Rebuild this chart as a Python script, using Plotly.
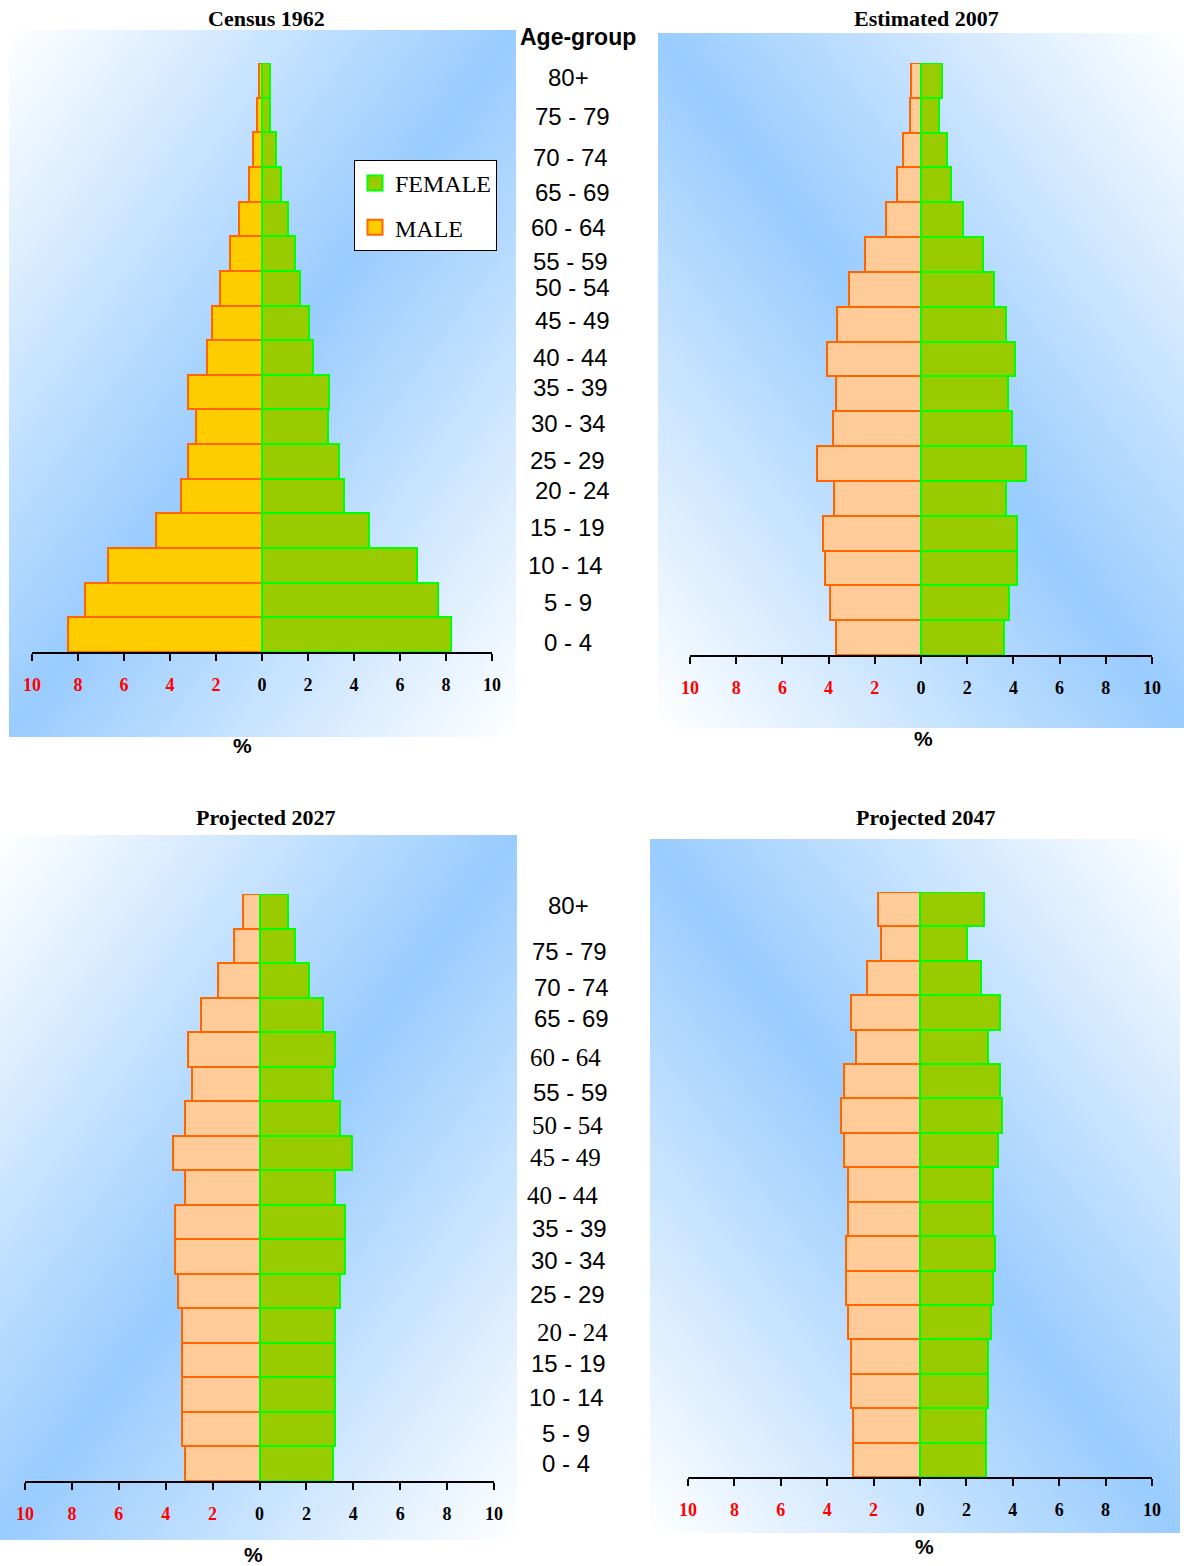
import base64
import plotly.graph_objects as go

W, H = 1184, 1566

# ---------------- data ----------------
ages = ["0 - 4", "5 - 9", "10 - 14", "15 - 19", "20 - 24", "25 - 29", "30 - 34",
        "35 - 39", "40 - 44", "45 - 49", "50 - 54", "55 - 59", "60 - 64",
        "65 - 69", "70 - 74", "75 - 79", "80+"]

male_1962 = [8.45, 7.71, 6.71, 4.61, 3.51, 3.20, 2.89, 3.20, 2.41, 2.19, 1.83, 1.41, 1.00, 0.58, 0.40, 0.22, 0.13]
female_1962 = [8.23, 7.64, 6.76, 4.64, 3.55, 3.35, 2.85, 2.93, 2.23, 2.05, 1.65, 1.43, 1.13, 0.84, 0.62, 0.33, 0.33]

male_2007 = [3.68, 3.95, 4.16, 4.23, 3.75, 4.49, 3.83, 3.68, 4.05, 3.62, 3.12, 2.43, 1.50, 1.02, 0.78, 0.48, 0.45]
female_2007 = [3.60, 3.81, 4.17, 4.14, 3.69, 4.53, 3.93, 3.75, 4.05, 3.66, 3.18, 2.67, 1.80, 1.32, 1.11, 0.78, 0.93]

male_2027 = [3.18, 3.29, 3.29, 3.29, 3.29, 3.46, 3.59, 3.59, 3.16, 3.69, 3.16, 2.88, 3.07, 2.49, 1.78, 1.08, 0.69]
female_2027 = [3.14, 3.22, 3.22, 3.22, 3.22, 3.45, 3.64, 3.64, 3.22, 3.94, 3.45, 3.14, 3.22, 2.72, 2.12, 1.50, 1.20]

male_2047 = [2.89, 2.89, 2.98, 2.98, 3.09, 3.18, 3.18, 3.09, 3.09, 3.27, 3.39, 3.27, 2.77, 2.98, 2.28, 1.67, 1.79]
female_2047 = [2.83, 2.83, 2.95, 2.95, 3.04, 3.13, 3.25, 3.13, 3.13, 3.36, 3.54, 3.45, 2.95, 3.45, 2.63, 2.03, 2.75]

panel_titles = ["Census 1962", "Estimated 2007", "Projected 2027", "Projected 2047"]
tick_vals = [-10, -8, -6, -4, -2, 0, 2, 4, 6, 8, 10]
tick_nums = ["10", "8", "6", "4", "2", "0", "2", "4", "6", "8", "10"]

# ---------------- layout helpers ----------------
def px(x, y):
    return x / W, 1 - y / H

def grad_svg(direction):
    if direction == "up":   # blue band from bottom-left to top-right
        x1, y1, x2, y2 = 0, 0, 1, 1
    else:                   # blue band from top-left to bottom-right
        x1, y1, x2, y2 = 1, 0, 0, 1
    svg = ('<svg xmlns="http://www.w3.org/2000/svg" width="200" height="200" '
           'viewBox="0 0 200 200" preserveAspectRatio="none"><defs>'
           f'<linearGradient id="g" x1="{x1}" y1="{y1}" x2="{x2}" y2="{y2}">'
           '<stop offset="0" stop-color="#FFFFFF"/>'
           '<stop offset="0.5" stop-color="#99CCFF"/>'
           '<stop offset="1" stop-color="#FFFFFF"/>'
           '</linearGradient></defs>'
           '<rect width="200" height="200" fill="url(#g)"/></svg>')
    return "data:image/svg+xml;base64," + base64.b64encode(svg.encode()).decode()

# panel geometry in pixels: axis x-range, axis y (bottom) and top of bars, background box
panels = [
    dict(x0=32, x1=492, ybot=652, ytop=63, bg=(9, 30, 516, 737), grad="up",
         title=(266, 19), pct=(242, 745), male_fill="#FFCC00"),
    dict(x0=690, x1=1152, ybot=655, ytop=63, bg=(658, 33, 1184, 728), grad="down",
         title=(926, 19), pct=(923, 738), male_fill="#FFCC99"),
    dict(x0=25, x1=494, ybot=1481, ytop=894, bg=(0, 835, 517, 1540), grad="up",
         title=(266, 817), pct=(253, 1554), male_fill="#FFCC99"),
    dict(x0=688, x1=1152, ybot=1477, ytop=892, bg=(650, 839, 1180, 1533), grad="down",
         title=(926, 817), pct=(924, 1546), male_fill="#FFCC99"),
]
males = [male_1962, male_2007, male_2027, male_2047]
females = [female_1962, female_2007, female_2027, female_2047]

fig = go.Figure()
layout = dict(
    width=W, height=H, autosize=False, margin=dict(l=0, r=0, t=0, b=0, pad=0),
    paper_bgcolor="white", plot_bgcolor="rgba(0,0,0,0)",
    barmode="overlay", bargap=0, showlegend=True,
    legend=dict(x=354 / W, y=1 - 160 / H, xanchor="left", yanchor="top",
                bgcolor="white", bordercolor="black", borderwidth=1,
                font=dict(family="Liberation Serif", size=24, color="black"),
                traceorder="grouped", tracegroupgap=10, itemwidth=30),
)

ticktext = []
for v, t in zip(tick_vals, tick_nums):
    if v < 0:
        ticktext.append(f'<b><span style="color:#FF0000">{t}</span></b>')
    else:
        ticktext.append(f"<b>{t}</b>")

images = []
annotations = []
for i, p in enumerate(panels):
    n = "" if i == 0 else str(i + 1)
    xa, ya = "x" + n, "y" + n
    fig.add_trace(go.Bar(
        y=ages, x=[-v for v in males[i]], orientation="h", name="MALE",
        marker=dict(color=p["male_fill"], line=dict(color="#FF6600", width=2)),
        xaxis=xa, yaxis=ya, showlegend=False, hoverinfo="skip", width=1))
    fig.add_trace(go.Bar(
        y=ages, x=females[i], orientation="h", name="FEMALE",
        marker=dict(color="#99CC00", line=dict(color="#00FF00", width=2)),
        xaxis=xa, yaxis=ya, showlegend=False, hoverinfo="skip", width=1))
    layout["xaxis" + n] = dict(
        domain=[p["x0"] / W, p["x1"] / W], range=[-10, 10], anchor=ya, automargin=False,
        showline=True, linecolor="black", linewidth=2, showgrid=False, zeroline=False,
        ticks="outside", ticklen=7, tickwidth=2, tickcolor="black",
        tickmode="array", tickvals=tick_vals, ticktext=ticktext,
        tickfont=dict(family="Liberation Serif", size=18, color="black"),
        ticklabelstandoff=8, fixedrange=True)
    layout["yaxis" + n] = dict(
        domain=[1 - p["ybot"] / H, 1 - p["ytop"] / H], anchor=xa, automargin=False,
        type="category", categoryorder="array", categoryarray=ages,
        range=[-0.5, len(ages) - 0.5], visible=False, fixedrange=True)
    bx0, by0, bx1, by1 = p["bg"]
    images.append(dict(source=grad_svg(p["grad"]), xref="paper", yref="paper",
                       x=bx0 / W, y=1 - by0 / H, sizex=(bx1 - bx0) / W, sizey=(by1 - by0) / H,
                       xanchor="left", yanchor="top", sizing="stretch", layer="below"))
    tx, ty = px(*p["title"])
    annotations.append(dict(text="<b>" + panel_titles[i] + "</b>", x=tx, y=ty, xref="paper", yref="paper",
                            showarrow=False, xanchor="center", yanchor="middle",
                            font=dict(family="Liberation Serif", size=22, color="black")))
    qx, qy = px(*p["pct"])
    annotations.append(dict(text="<b>%</b>", x=qx, y=qy, xref="paper", yref="paper",
                            showarrow=False, xanchor="center", yanchor="middle",
                            font=dict(family="Liberation Sans", size=21, color="black")))

# legend entries (square swatches like the original legend)
fig.add_trace(go.Scatter(x=[None], y=[None], mode="markers", name="FEMALE",
                         marker=dict(symbol="square", size=15, color="#99CC00",
                                     line=dict(color="#00FF00", width=2)),
                         xaxis="x", yaxis="y", legendgroup="f", legendrank=1, hoverinfo="skip"))
fig.add_trace(go.Scatter(x=[None], y=[None], mode="markers", name="MALE",
                         marker=dict(symbol="square", size=15, color="#FFCC00",
                                     line=dict(color="#FF6600", width=2)),
                         xaxis="x", yaxis="y", legendgroup="m", legendrank=2, hoverinfo="skip"))

# Age-group header and label columns (label positions in pixels, from 0-4 up to 80+)
gx, gy = px(578, 37)
annotations.append(dict(text="<b>Age-group</b>", x=gx, y=gy, xref="paper", yref="paper",
                        showarrow=False, xanchor="center", yanchor="middle",
                        font=dict(family="Liberation Sans", size=23, color="black")))

col1_pos = [(568, 642), (568, 603), (565, 565), (567, 527), (572, 490), (567, 460), (568, 423),
            (570, 388), (570, 357), (572, 320), (572, 287), (570, 262), (568, 227),
            (572, 192), (570, 157), (572, 117), (568, 78)]
col2_pos = [(566, 1463), (566, 1433), (566, 1397), (568, 1363), (572, 1332), (567, 1294), (568, 1260),
            (569, 1228), (562, 1195), (565, 1157), (567, 1125), (570, 1092), (565, 1057),
            (571, 1018), (571, 987), (569, 951), (568, 905)]
serif_col2 = {"60 - 64", "50 - 54", "45 - 49", "40 - 44", "20 - 24"}

for lab, (x, y) in zip(ages, col1_pos):
    ax, ay = px(x, y)
    annotations.append(dict(text=lab, x=ax, y=ay, xref="paper", yref="paper", showarrow=False,
                            xanchor="center", yanchor="middle",
                            font=dict(family="Liberation Sans", size=24, color="black")))
for lab, (x, y) in zip(ages, col2_pos):
    ax, ay = px(x, y)
    if lab in serif_col2:
        f = dict(family="Liberation Serif", size=25, color="black")
    else:
        f = dict(family="Liberation Sans", size=24, color="black")
    annotations.append(dict(text=lab, x=ax, y=ay, xref="paper", yref="paper", showarrow=False,
                            xanchor="center", yanchor="middle", font=f))

layout["images"] = images
layout["annotations"] = annotations
fig.update_layout(**layout)

fig.write_html("out.html", config={"displayModeBar": False, "responsive": False},
               post_script="document.body.style.margin='0';document.body.style.overflow='hidden';")
